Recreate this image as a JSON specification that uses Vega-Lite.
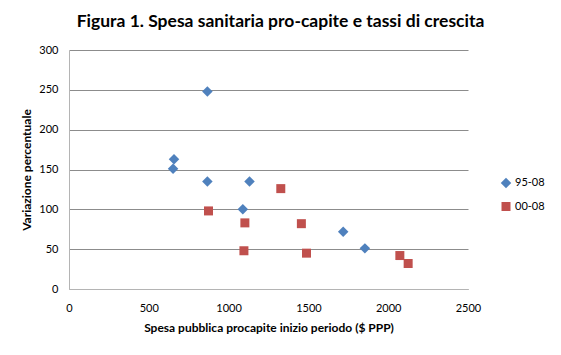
{
  "$schema": "https://vega.github.io/schema/vega-lite/v6.json",
  "width": 399,
  "height": 239,
  "autosize": {"type": "none"},
  "padding": {"left": 69, "top": 50, "right": 93, "bottom": 66},
  "background": "white",
  "title": {
    "text": "Figura 1. Spesa sanitaria pro-capite e tassi di crescita",
    "font": "Lato",
    "fontSize": 17.5,
    "fontWeight": "bold",
    "color": "#000000",
    "anchor": "middle",
    "dx": 12,
    "offset": 14
  },
  "data": {
    "values": [
      {"spesa": 867, "var": 248, "serie": "95-08"},
      {"spesa": 658, "var": 163, "serie": "95-08"},
      {"spesa": 652, "var": 151, "serie": "95-08"},
      {"spesa": 867, "var": 135, "serie": "95-08"},
      {"spesa": 1131, "var": 135, "serie": "95-08"},
      {"spesa": 1089, "var": 100, "serie": "95-08"},
      {"spesa": 1718, "var": 72, "serie": "95-08"},
      {"spesa": 1854, "var": 51, "serie": "95-08"},
      {"spesa": 874, "var": 98, "serie": "00-08"},
      {"spesa": 1327, "var": 126, "serie": "00-08"},
      {"spesa": 1102, "var": 83, "serie": "00-08"},
      {"spesa": 1456, "var": 82, "serie": "00-08"},
      {"spesa": 1096, "var": 48, "serie": "00-08"},
      {"spesa": 1488, "var": 45, "serie": "00-08"},
      {"spesa": 2073, "var": 42, "serie": "00-08"},
      {"spesa": 2125, "var": 32, "serie": "00-08"}
    ]
  },
  "mark": {"type": "point", "filled": true, "opacity": 1},
  "encoding": {
    "x": {
      "field": "spesa",
      "type": "quantitative",
      "scale": {"domain": [0, 2500], "nice": false},
      "axis": {
        "title": "Spesa pubblica procapite inizio periodo ($ PPP)",
        "values": [0, 500, 1000, 1500, 2000, 2500],
        "format": "d",
        "grid": false,
        "ticks": false,
        "labelPadding": 13,
        "titlePadding": 9,
        "labelFlush": false
      }
    },
    "y": {
      "field": "var",
      "type": "quantitative",
      "scale": {"domain": [0, 300], "nice": false},
      "axis": {
        "title": "Variazione percentuale",
        "values": [0, 50, 100, 150, 200, 250, 300],
        "format": "d",
        "grid": true,
        "ticks": false,
        "labelPadding": 11,
        "titlePadding": 5
      }
    },
    "color": {
      "field": "serie",
      "type": "nominal",
      "scale": {"domain": ["95-08", "00-08"], "range": ["#4F81BD", "#C0504D"]},
      "legend": {
        "title": null,
        "orient": "none",
        "legendX": 431,
        "legendY": 127,
        "rowPadding": 11,
        "labelOffset": 3,
        "padding": 0
      }
    },
    "shape": {
      "field": "serie",
      "type": "nominal",
      "scale": {"domain": ["95-08", "00-08"], "range": ["diamond", "square"]}
    },
    "size": {
      "field": "serie",
      "type": "nominal",
      "scale": {"domain": ["95-08", "00-08"], "range": [110, 81]}
    }
  },
  "config": {
    "view": {"stroke": null},
    "axis": {
      "labelFont": "Lato",
      "labelFontSize": 11,
      "labelColor": "#000000",
      "titleFont": "Lato",
      "titleFontSize": 12,
      "titleFontWeight": "bold",
      "titleColor": "#000000",
      "domainColor": "#b4b4b4",
      "gridColor": "#8c8c8c",
      "gridOpacity": 1
    },
    "legend": {
      "labelFont": "Lato",
      "labelFontSize": 11,
      "labelColor": "#000000"
    }
  }
}
